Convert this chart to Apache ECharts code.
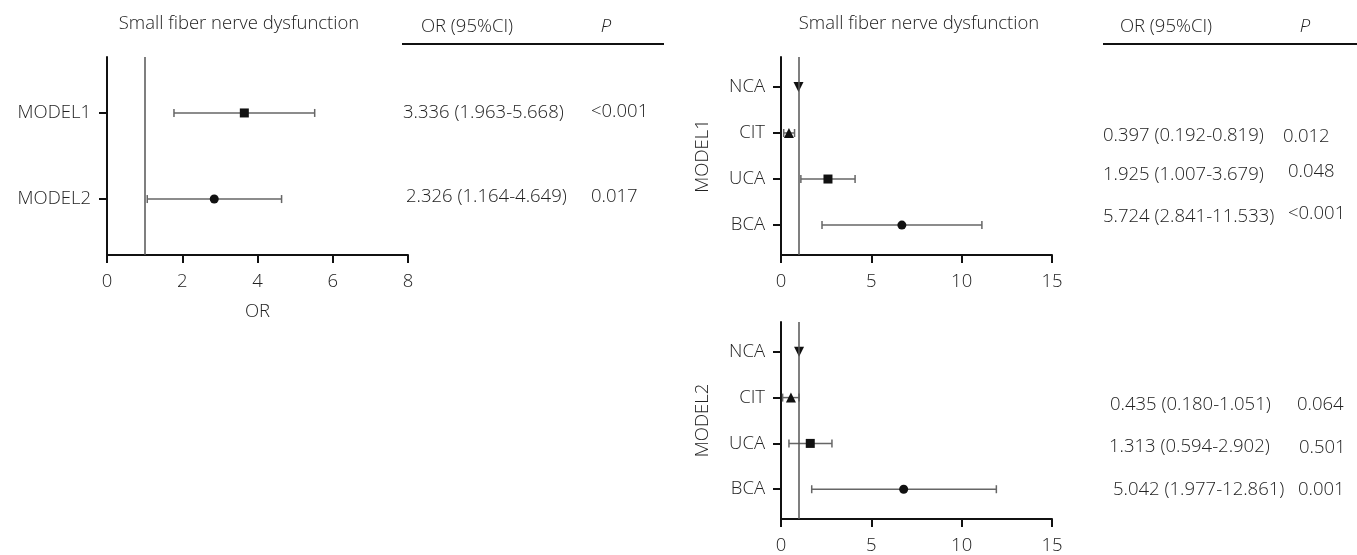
<!DOCTYPE html>
<html>
<head>
<meta charset="utf-8">
<script src="https://cdn.jsdelivr.net/npm/echarts@6/dist/echarts.min.js"></script>
<style>
  html, body { margin: 0; padding: 0; background: #fff; }
  #main { width: 1357px; height: 555px; }
</style>
</head>
<body>
<div id="main"></div>
<script>
// left panel: overall models
const modelRows = ['MODEL1', 'MODEL2'];
const modelOR = [3.65, 2.85];
const modelLow = [1.78, 1.07];
const modelHigh = [5.52, 4.64];
const modelORText = ['3.336 (1.963-5.668)', '2.326 (1.164-4.649)'];
const modelPText = ['<0.001', '0.017'];

// right panels: groups within each model
const groups = ['NCA', 'CIT', 'UCA', 'BCA'];
const groupSymbols = ['triangle', 'triangle', 'rect', 'circle'];
const m1OR = [0.97, 0.44, 2.6, 6.69];
const m1Low = [null, 0.15, 1.1, 2.27];
const m1High = [null, 0.75, 4.1, 11.12];
const m1ORText = ['0.397 (0.192-0.819)', '1.925 (1.007-3.679)', '5.724 (2.841-11.533)'];
const m1PText = ['0.012', '0.048', '<0.001'];
const m2OR = [1.0, 0.55, 1.62, 6.79];
const m2Low = [null, 0.09, 0.44, 1.7];
const m2High = [null, 1.0, 2.82, 11.92];
const m2ORText = ['0.435 (0.180-1.051)', '1.313 (0.594-2.902)', '5.042 (1.977-12.861)'];
const m2PText = ['0.064', '0.501', '0.001'];

const leftTicks = [0, 2, 4, 6, 8];
const rightTicks = [0, 5, 10, 15];
const refValue = 1;

const FONT = "'Open Sans', 'Noto Sans', sans-serif";
const FS = 18.5;
const TEXT = '#222';

// row n-1 at the top, row 0 at the bottom
function rowPos(names) {
  return names.map((_, i) => names.length - i);
}
const modelPos = rowPos(modelRows);
const groupPos = rowPos(groups);

function yAxis(idx, names, pos, name) {
  return {
    type: 'value', gridIndex: idx,
    min: 0.35, max: names.length + 0.65,
    name: name || '', nameLocation: 'middle', nameGap: 69, nameRotate: 90,
    nameTextStyle: { fontSize: FS, color: TEXT, fontFamily: FONT, fontWeight: 300 },
    axisLine: { show: true, lineStyle: { color: '#111', width: 2 } },
    axisTick: { show: true, length: 8, customValues: pos, lineStyle: { color: '#111', width: 2 } },
    axisLabel: {
      customValues: pos, margin: 16, fontSize: FS, color: TEXT, fontFamily: FONT, fontWeight: 300,
      formatter: v => names[pos.indexOf(v)] || ''
    },
    splitLine: { show: false }
  };
}

function xAxis(idx, ticks, name) {
  return {
    type: 'value', gridIndex: idx,
    min: ticks[0], max: ticks[ticks.length - 1], interval: ticks[1] - ticks[0],
    name: name || '', nameLocation: 'middle', nameGap: 47,
    nameTextStyle: { fontSize: FS, color: TEXT, fontFamily: FONT, fontWeight: 300 },
    axisLine: { show: true, lineStyle: { color: '#111', width: 2 } },
    axisTick: { show: true, length: 8, lineStyle: { color: '#111', width: 2 } },
    axisLabel: { margin: 17, fontSize: FS, color: TEXT, fontFamily: FONT, fontWeight: 300 },
    splitLine: { show: false }
  };
}

function errorSeries(idx, low, high, pos) {
  const data = [];
  low.forEach((l, i) => { if (l != null) data.push([l, high[i], pos[i]]); });
  return {
    type: 'custom', xAxisIndex: idx, yAxisIndex: idx, z: 2,
    encode: { x: [0, 1], y: 2 },
    data: data,
    renderItem: function (params, api) {
      const y = api.value(2);
      const a = api.coord([api.value(0), y]);
      const b = api.coord([api.value(1), y]);
      const h = 4;
      const style = { stroke: '#666', lineWidth: 1.5 };
      return {
        type: 'group',
        children: [
          { type: 'line', shape: { x1: a[0], y1: a[1], x2: b[0], y2: b[1] }, style: style },
          { type: 'line', shape: { x1: a[0], y1: a[1] - h, x2: a[0], y2: a[1] + h }, style: style },
          { type: 'line', shape: { x1: b[0], y1: b[1] - h, x2: b[0], y2: b[1] + h }, style: style }
        ]
      };
    },
    markLine: {
      silent: true, symbol: 'none', label: { show: false },
      lineStyle: { color: '#555', width: 1.5, type: 'solid' },
      data: [{ xAxis: refValue }]
    }
  };
}

function pointSeries(idx, or, pos, symbols, flipFirst) {
  return {
    type: 'scatter', xAxisIndex: idx, yAxisIndex: idx, z: 3,
    itemStyle: { color: '#111', opacity: 1 },
    data: or.map((v, i) => ({
      value: [v, pos[i]],
      symbol: symbols[i],
      symbolSize: symbols[i] === 'triangle' ? 10 : 9,
      symbolRotate: flipFirst && i === 0 ? 180 : 0
    }))
  };
}

function txt(x, y, text, opt) {
  opt = opt || {};
  return {
    type: 'text', x: x, y: y, silent: true,
    style: {
      text: text, fill: TEXT, fontSize: FS, fontFamily: FONT,
      fontWeight: 300, fontStyle: opt.italic ? 'italic' : 'normal',
      align: opt.align || 'left', verticalAlign: 'middle'
    }
  };
}
function hline(x1, x2, y) {
  return { type: 'line', silent: true, shape: { x1: x1, y1: y, x2: x2, y2: y }, style: { stroke: '#111', lineWidth: 2 } };
}

const graphics = [
  txt(239, 24, 'Small fiber nerve dysfunction', { align: 'center' }),
  txt(467, 27, 'OR (95%CI)', { align: 'center' }),
  txt(606, 27, 'P', { align: 'center', italic: true }),
  hline(402, 664, 44),
  txt(919, 24, 'Small fiber nerve dysfunction', { align: 'center' }),
  txt(1166, 27, 'OR (95%CI)', { align: 'center' }),
  txt(1305, 27, 'P', { align: 'center', italic: true }),
  hline(1103, 1357, 44),

  txt(403, 113, modelORText[0]), txt(591, 112, modelPText[0]),
  txt(406, 197, modelORText[1]), txt(591, 197, modelPText[1]),

  txt(1103, 136, m1ORText[0]), txt(1283, 137, m1PText[0]),
  txt(1103, 175, m1ORText[1]), txt(1288, 172, m1PText[1]),
  txt(1103, 217, m1ORText[2]), txt(1288, 214, m1PText[2]),

  txt(1110, 405, m2ORText[0]), txt(1297, 405, m2PText[0]),
  txt(1109, 447, m2ORText[1]), txt(1299, 448, m2PText[1]),
  txt(1113, 490, m2ORText[2]), txt(1298, 490, m2PText[2])
];

const chart = echarts.init(document.getElementById('main'), null, { renderer: 'canvas' });
chart.setOption({
  animation: false,
  backgroundColor: '#fff',
  grid: [
    { left: 107, top: 57, width: 301, height: 198 },
    { left: 781, top: 57, width: 271, height: 198 },
    { left: 781, top: 322, width: 271, height: 200 }
  ],
  xAxis: [
    xAxis(0, leftTicks, 'OR'),
    xAxis(1, rightTicks),
    xAxis(2, rightTicks)
  ],
  yAxis: [
    yAxis(0, modelRows, modelPos),
    yAxis(1, groups, groupPos, 'MODEL1'),
    yAxis(2, groups, groupPos, 'MODEL2')
  ],
  series: [
    errorSeries(0, modelLow, modelHigh, modelPos),
    pointSeries(0, modelOR, modelPos, ['rect', 'circle'], false),
    errorSeries(1, m1Low, m1High, groupPos),
    pointSeries(1, m1OR, groupPos, groupSymbols, true),
    errorSeries(2, m2Low, m2High, groupPos),
    pointSeries(2, m2OR, groupPos, groupSymbols, true)
  ],
  graphic: graphics
});
</script>
</body>
</html>
